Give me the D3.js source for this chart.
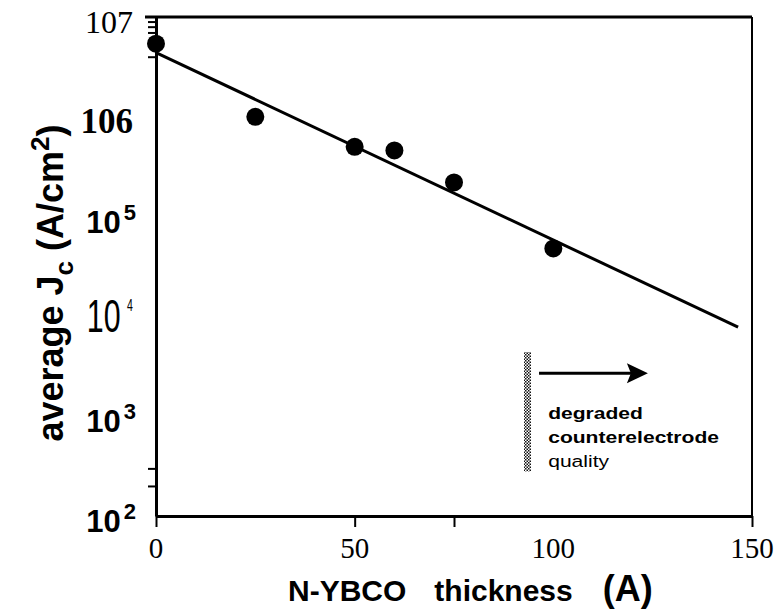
<!DOCTYPE html>
<html><head><meta charset="utf-8">
<script src="https://cdn.jsdelivr.net/npm/d3@7"></script>
<style>body{margin:0;background:#fff} svg{display:block}</style>
</head><body>
<svg id="chart" width="783" height="609"></svg>
<script>
// ---- data ----
const thickness = [0, 25, 50, 60, 75, 100];
const jc = [5.4e6, 1.0e6, 5.0e5, 4.6e5, 2.2e5, 4.8e4];
const fitX = [0, 146.5];
const fitY = [4.4e6, 7.8e3];
const xTickLabels = [0, 50, 100, 150];
const xTickMarks = [0, 50, 75, 150];
const yTickValues = [1e2, 1e3, 1e4, 1e5, 1e6, 1e7];
const yTickBase = ["10", "10", "10", "10", "106", "107"];
const yTickExp = ["2", "3", "4", "5", "", ""];
const yMinorTicks = [200, 300, 4e6, 7e6, 8e6, 9e6];
const annotationLines = ["degraded", "counterelectrode", "quality"];
const barrierX = 93.5;
const barrierY = [2.8e2, 4.4e3];
const arrowX = [96.4, 123.8];
const arrowY = 2.7e3;
const annotX = 98.7;

// ---- scales ----
const svg = d3.select("#chart");
const x = d3.scaleLinear().domain([0, 150]).range([156, 752]);
const y = d3.scaleLog().domain([1e2, 1e7]).range([516, 17]);

const sans = "Liberation Sans, Arial, Helvetica, sans-serif";
const serif = "Liberation Serif, Times New Roman, serif";

// defs: hatch pattern
const defs = svg.append("defs");
const pat = defs.append("pattern").attr("id", "hatch").attr("patternUnits", "userSpaceOnUse")
  .attr("width", 3).attr("height", 3);
pat.append("rect").attr("width", 3).attr("height", 3).attr("fill", "#fff");
pat.append("rect").attr("x", 0).attr("y", 0).attr("width", 1.5).attr("height", 1.5).attr("fill", "#111");
pat.append("rect").attr("x", 1.5).attr("y", 1.5).attr("width", 1.5).attr("height", 1.5).attr("fill", "#111");

// ---- frame ----
svg.append("line").attr("x1", x(0) - 11).attr("x2", x(150)).attr("y1", y(1e7)).attr("y2", y(1e7))
  .attr("stroke", "#000").attr("stroke-width", 3);
svg.append("line").attr("x1", x(150)).attr("x2", x(150)).attr("y1", y(1e7)).attr("y2", y(1e2))
  .attr("stroke", "#000").attr("stroke-width", 2);

// y axis (minor ticks only visible)
const yAxis = svg.append("g").attr("transform", `translate(${x(0)},0)`)
  .call(d3.axisLeft(y).tickValues(yMinorTicks).tickSize(8).tickSizeOuter(0).tickFormat(""));
yAxis.select(".domain").attr("stroke-width", 3);
yAxis.selectAll(".tick line").attr("stroke-width", 2);

// x axis
const xAxis = svg.append("g").attr("transform", `translate(0,${y(1e2)})`)
  .call(d3.axisBottom(x).tickValues(xTickMarks).tickSize(11).tickSizeOuter(0).tickFormat(""));
xAxis.select(".domain").attr("stroke-width", 3);
xAxis.selectAll(".tick line").attr("stroke-width", 2);

// x tick labels
svg.append("g").selectAll("text").data(xTickLabels).join("text")
  .attr("x", d => x(d)).attr("y", y(1e2) + 42)
  .attr("text-anchor", "middle").attr("font-family", serif).attr("font-size", 29)
  .text(d => d);

// y tick labels
yTickValues.forEach((v, i) => {
  const yy = y(v) + 16;
  if (yTickExp[i] === "") {
    svg.append("text").attr("x", 133).attr("y", yy)
      .attr("text-anchor", "end").attr("font-family", serif)
      .attr("font-size", i === 5 ? 32 : 35).attr("font-weight", i === 5 ? "normal" : "bold")
      .text(yTickBase[i]);
  } else if (yTickExp[i] === "4") {
    const t = svg.append("text").attr("transform", `translate(133,${yy}) scale(0.66,1)`)
      .attr("text-anchor", "end").attr("font-family", sans).attr("font-size", 46);
    t.append("tspan").text(yTickBase[i]);
    t.append("tspan").attr("dx", 10).attr("dy", -21).attr("font-size", 16).text(yTickExp[i]);
  } else {
    const t = svg.append("text").attr("x", 136).attr("y", yy)
      .attr("text-anchor", "end").attr("font-family", sans).attr("font-size", 31).attr("font-weight", "bold");
    t.append("tspan").text(yTickBase[i]);
    t.append("tspan").attr("dx", 3).attr("dy", -13).attr("font-size", 22).text(yTickExp[i]);
  }
});

// fit line
const pts = fitX.map((d, i) => [d, fitY[i]]);
svg.append("path").datum(pts)
  .attr("d", d3.line().x(d => x(d[0])).y(d => y(d[1])))
  .attr("fill", "none").attr("stroke", "#000").attr("stroke-width", 3);

// data points
svg.append("g").selectAll("circle").data(thickness).join("circle")
  .attr("cx", d => x(d)).attr("cy", (d, i) => y(jc[i])).attr("r", 9).attr("fill", "#000");

// hatched barrier
svg.append("rect").attr("x", x(barrierX) - 3.5).attr("y", y(barrierY[1]))
  .attr("width", 7).attr("height", y(barrierY[0]) - y(barrierY[1]))
  .attr("fill", "url(#hatch)");

// arrow
const ay = y(arrowY);
const ax1 = x(arrowX[1]);
svg.append("line").attr("x1", x(arrowX[0])).attr("x2", ax1 - 16).attr("y1", ay).attr("y2", ay)
  .attr("stroke", "#000").attr("stroke-width", 3);
svg.append("path")
  .attr("d", `M${ax1},${ay} L${ax1 - 21},${ay - 10} L${ax1 - 17},${ay} L${ax1 - 21},${ay + 10} Z`)
  .attr("fill", "#000");

// annotation text
annotationLines.forEach((s, i) => {
  svg.append("text").attr("transform", `translate(${x(annotX)},${ay + 46 + i * 24}) scale(1.24,1)`)
    .attr("font-family", sans).attr("font-size", 17).attr("font-weight", i < 2 ? "bold" : "normal")
    .text(s);
});

// x axis title
const xt = svg.append("text").attr("x", 288).attr("y", 601).attr("text-anchor", "start")
  .attr("font-family", sans).attr("font-weight", "bold").attr("font-size", 30);
xt.append("tspan").text("N-YBCO");
xt.append("tspan").attr("dx", 28).text("thickness");
xt.append("tspan").attr("dx", 30).attr("font-size", 36).text("(A)");

// y axis title
const yt = svg.append("text").attr("transform", "translate(63,283) rotate(-90)").attr("text-anchor", "middle")
  .attr("font-family", sans).attr("font-weight", "bold").attr("font-size", 36);
yt.append("tspan").text("average J");
yt.append("tspan").attr("dy", 10).attr("font-size", 26).text("c");
yt.append("tspan").attr("dy", -10).text(" (A/cm");
yt.append("tspan").attr("dy", -14).attr("font-size", 26).text("2");
yt.append("tspan").attr("dy", 14).text(")");
</script>
</body></html>
